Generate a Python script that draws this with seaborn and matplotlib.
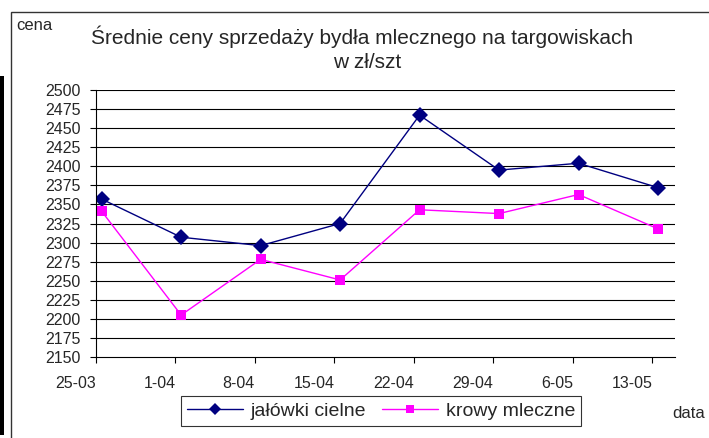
import matplotlib
matplotlib.use("Agg")
import matplotlib.pyplot as plt
from matplotlib.patches import Rectangle
from matplotlib.lines import Line2D
import seaborn as sns
import pandas as pd
import numpy as np

# ---- data ----
daty = ['25-03', '1-04', '8-04', '15-04', '22-04', '29-04', '6-05', '13-05']
jalowki_cielne = [2357, 2307, 2296, 2325, 2467, 2395, 2404, 2372]
krowy_mleczne = [2341, 2205, 2278, 2251, 2343, 2338, 2363, 2318]
y_ticks = list(range(2150, 2501, 25))
seria1 = 'jałówki cielne'
seria2 = 'krowy mleczne'

sns.set_theme(style="white")
plt.rcParams['font.family'] = ['Liberation Sans', 'DejaVu Sans']

dates = pd.to_datetime([d + '-2003' for d in daty], format='%d-%m-%Y')
# Excel date axis places each point in the middle of its day
pts = dates + pd.Timedelta(hours=12)

df = pd.DataFrame({
    'data': list(pts) * 2,
    'cena': jalowki_cielne + krowy_mleczne,
    'seria': [seria1] * len(daty) + [seria2] * len(daty),
})

W, H = 709, 438
fig = plt.figure(figsize=(W / 100, H / 100), dpi=100)
fig.patch.set_facecolor('white')
ax = fig.add_axes([96 / W, 1 - 357 / H, (675 - 96) / W, (357 - 90) / H])

c1, c2 = '#000080', '#FF00FF'
sns.lineplot(data=df[df.seria == seria1], x='data', y='cena', ax=ax,
             color=c1, marker='D', markersize=8, markeredgewidth=0,
             linewidth=1.0, legend=False)
sns.lineplot(data=df[df.seria == seria2], x='data', y='cena', ax=ax,
             color=c2, marker='s', markersize=6.5, markeredgewidth=0,
             linewidth=1.0, legend=False)

ax.set_xlim(dates[0], dates[-1] + pd.Timedelta(days=2))
ax.set_ylim(y_ticks[0], y_ticks[-1])
ax.set_yticks(y_ticks)
ax.set_yticklabels([str(v) for v in y_ticks], fontsize=11.5)
ax.set_xticks(dates)
ax.set_xticklabels(daty, fontsize=11.5, ha='right')
ax.set_xlabel('')
ax.set_ylabel('')

for v in y_ticks[1:]:
    ax.axhline(v, color='black', lw=0.8, zorder=0)

for s in ['top', 'right']:
    ax.spines[s].set_visible(False)
for s in ['left', 'bottom']:
    ax.spines[s].set_color('black')
    ax.spines[s].set_linewidth(0.8)
ax.tick_params(axis='y', direction='out', length=4, width=0.8, color='black', pad=7, left=True)
ax.tick_params(axis='x', direction='out', length=4, width=0.8, color='black', pad=9.5, bottom=True)
ax.grid(False)

# title
fig.text(362 / W, 1 - 37 / H, 'Średnie ceny sprzedaży bydła mlecznego na targowiskach',
         ha='center', va='center', fontsize=15)
fig.text(367 / W, 1 - 62 / H, 'w zł/szt', ha='center', va='center', fontsize=15)
fig.text(16 / W, 1 - 26 / H, 'cena', ha='left', va='center', fontsize=12)
fig.text(672 / W, 1 - 413 / H, 'data', ha='left', va='center', fontsize=12)

# legend
h = [Line2D([], [], color=c1, marker='D', markersize=6, markeredgewidth=0, lw=1.0),
     Line2D([], [], color=c2, marker='s', markersize=5.5, markeredgewidth=0, lw=1.0)]
leg = fig.legend(h, [seria1, seria2], loc='center', bbox_to_anchor=(381 / W, 1 - 411 / H), ncol=2,
                 fontsize=14, frameon=True, fancybox=False, shadow=False,
                 edgecolor='black', handlelength=2.9, columnspacing=0.8,
                 handletextpad=0.4, borderpad=0.3)
leg.get_frame().set_linewidth(0.8)

# outer chart frame and left bar
fig.add_artist(Rectangle((11 / W, -0.05), 1.0, 1 - 12 / H + 0.05, transform=fig.transFigure,
                         fill=False, edgecolor='#333333', lw=1.0))
fig.add_artist(Rectangle((0, 1 - 435 / H), 3.5 / W, (435 - 76) / H, transform=fig.transFigure,
                         facecolor='black', edgecolor='none'))

fig.savefig('out.png', dpi=100, facecolor='white')
